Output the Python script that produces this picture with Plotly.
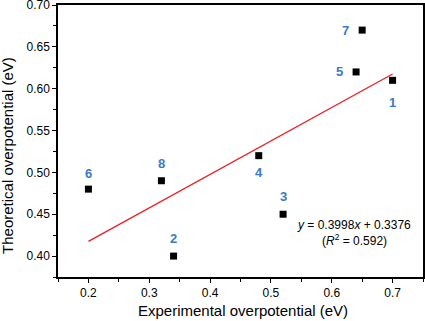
import plotly.graph_objects as go

exp_op = [0.70, 0.34, 0.52, 0.48, 0.64, 0.20, 0.65, 0.32]
theo_op = [0.61, 0.40, 0.45, 0.52, 0.62, 0.48, 0.67, 0.49]
labels = ["1", "2", "3", "4", "5", "6", "7", "8"]
# label offsets (pixels): dx, dy
label_dx = [0, 0, 0, 0, -17, 0, -17, 0]
label_dy = [-22, 18, 18, -17, 0, 16, 0, 17]

fit_x = [0.2, 0.7]
fit_y = [0.4176, 0.6175]

FONT = "Liberation Sans, Arial"

fig = go.Figure()
fig.add_trace(go.Scatter(x=fit_x, y=fit_y, mode="lines",
                         line=dict(color="#ee1c25", width=1.3), showlegend=False))
fig.add_trace(go.Scatter(x=exp_op, y=theo_op, mode="markers",
                         marker=dict(symbol="square", size=7, color="black"),
                         showlegend=False))

for xv, yv, t, dx, dy in zip(exp_op, theo_op, labels, label_dx, label_dy):
    fig.add_annotation(x=xv, y=yv, text="<b>%s</b>" % t, showarrow=False,
                       xshift=dx, yshift=dy,
                       font=dict(size=13, color="#3a7ac6", family=FONT))

fig.add_annotation(x=0.637, y=0.4371, xref="x", yref="y", showarrow=False,
                   text="<i>y</i> = 0.3998<i>x</i> + 0.3376",
                   font=dict(size=12, color="black", family=FONT))
fig.add_annotation(x=0.637, y=0.4192, xref="x", yref="y", showarrow=False,
                   text="(<i>R</i><sup>2</sup> = 0.592)",
                   font=dict(size=12, color="black", family=FONT))

# axis titles
fig.add_annotation(x=0.508, xref="paper", y=0, yref="paper", yshift=-33,
                   yanchor="middle", showarrow=False,
                   text="Experimental overpotential (eV)",
                   font=dict(size=15, color="black", family=FONT))
fig.add_annotation(x=0, xref="paper", xshift=-50, y=0.445, yref="paper",
                   xanchor="center", yanchor="middle", showarrow=False, textangle=-90,
                   text="Theoretical overpotential (eV)",
                   font=dict(size=15, color="black", family=FONT))

fig.update_layout(
    width=425, height=321,
    margin=dict(l=58, r=2, t=5, b=44, autoexpand=False),
    paper_bgcolor="white", plot_bgcolor="white",
    font=dict(family=FONT, size=12, color="black"),
)
fig.update_xaxes(
    range=[0.15, 0.75], tickvals=[0.2, 0.3, 0.4, 0.5, 0.6, 0.7],
    ticktext=["0.2", "0.3", "0.4", "0.5", "0.6", "0.7"],
    ticks="outside", ticklen=4, tickwidth=1.2, tickcolor="black",
    minor=dict(tickvals=[0.15, 0.25, 0.35, 0.45, 0.55, 0.65, 0.75], ticks="outside", ticklen=3, tickcolor="black"),
    showline=True, linecolor="black", linewidth=1.5, mirror=True,
    showgrid=False, zeroline=False, automargin=False,
    tickfont=dict(size=12), ticklabeloverflow="allow",
)
fig.update_yaxes(
    range=[0.375, 0.70], tickvals=[0.40, 0.45, 0.50, 0.55, 0.60, 0.65, 0.70],
    ticktext=["0.40", "0.45", "0.50", "0.55", "0.60", "0.65", "0.70"],
    ticks="outside", ticklen=4, tickwidth=1.2, tickcolor="black",
    minor=dict(tickvals=[0.375, 0.425, 0.475, 0.525, 0.575, 0.625, 0.675], ticks="outside", ticklen=3, tickcolor="black"),
    showline=True, linecolor="black", linewidth=1.5, mirror=True,
    showgrid=False, zeroline=False, automargin=False,
    tickfont=dict(size=12), ticklabeloverflow="allow",
)

fig.write_html("out.html", config={"displayModeBar": False},
               post_script="document.body.style.margin='0';document.body.style.overflow='hidden';")
